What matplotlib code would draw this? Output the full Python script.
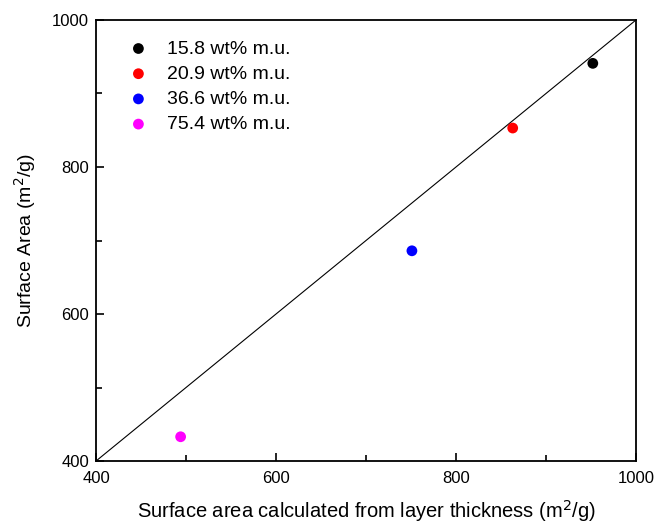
import matplotlib
matplotlib.use("Agg")
import matplotlib.pyplot as plt
from matplotlib.ticker import MultipleLocator

plt.rcParams['font.family'] = ['Liberation Sans', 'DejaVu Sans']

labels = ["15.8 wt% m.u.", "20.9 wt% m.u.", "36.6 wt% m.u.", "75.4 wt% m.u."]
x_calc = [952, 863, 751, 494]
y_area = [941, 853, 686, 433]
colors = ["black", "red", "blue", "magenta"]
line_x = [400, 1000]
line_y = [400, 1000]

fig = plt.figure(figsize=(6.55, 5.23), dpi=100)
ax = fig.add_axes([0.1466, 0.1185, 0.8244, 0.8433])

ax.plot(line_x, line_y, color="black", lw=0.8)
for xv, yv, c, lab in zip(x_calc, y_area, colors, labels):
    ax.scatter([xv], [yv], color=c, s=60, label=lab, zorder=3, edgecolors='none')

ax.set_xlim(400, 1000)
ax.set_ylim(400, 1000)
ax.xaxis.set_major_locator(MultipleLocator(200))
ax.xaxis.set_minor_locator(MultipleLocator(100))
ax.yaxis.set_major_locator(MultipleLocator(200))
ax.yaxis.set_minor_locator(MultipleLocator(100))
ax.tick_params(which='both', direction='in', top=False, right=False, labelsize=12, width=1.2)
ax.tick_params(which='major', length=6)
ax.tick_params(which='minor', length=4)
ax.tick_params(axis='x', pad=7)
ax.tick_params(axis='y', pad=5)
for s in ax.spines.values():
    s.set_linewidth(1.3)

ax.set_xlabel("Surface area calculated from layer thickness (m$^2$/g)", fontsize=14.5, labelpad=9)
ax.set_ylabel("Surface Area (m$^2$/g)", fontsize=14, labelpad=10)

ax.legend(loc='upper left', frameon=False, fontsize=14, handlelength=2.3, handletextpad=0.3,
          borderaxespad=0.5, labelspacing=0.39, scatterpoints=1, borderpad=0.53)

fig.savefig("out.png", dpi=100)
